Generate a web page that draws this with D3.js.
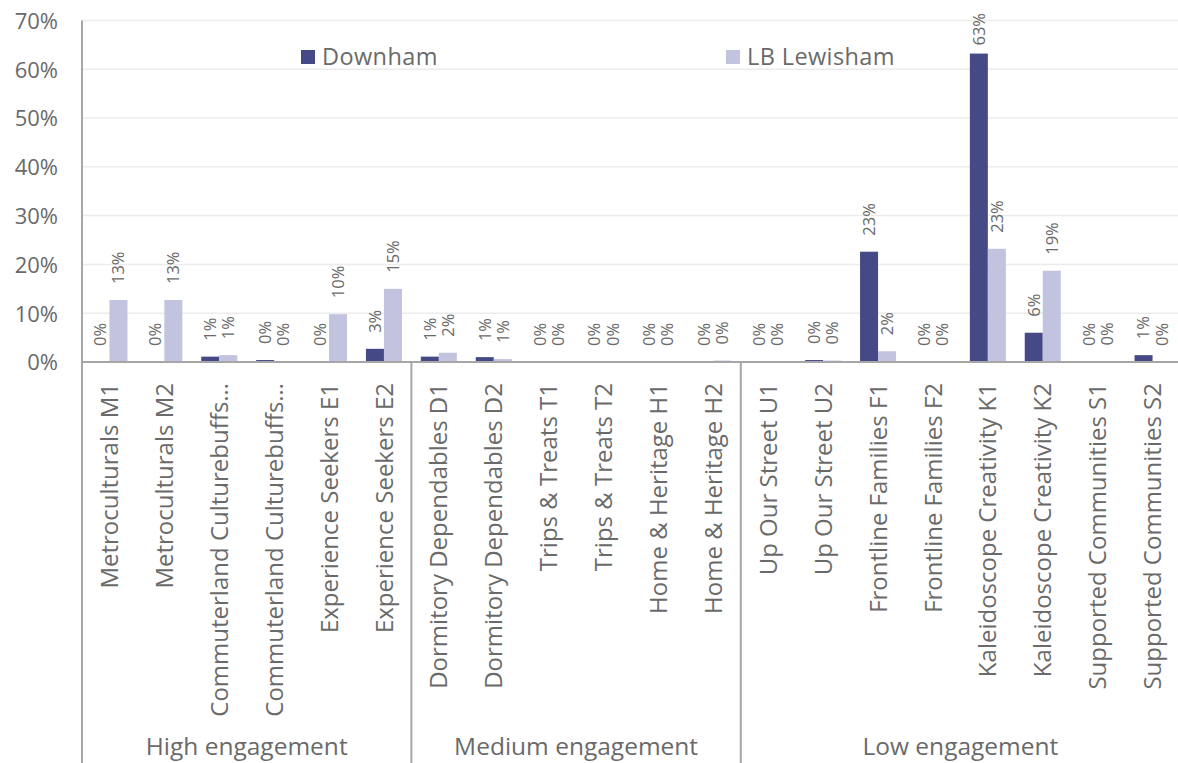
<!DOCTYPE html>
<html>
<head>
<meta charset="utf-8">
<script src="https://cdn.jsdelivr.net/npm/d3@7"></script>
<style>
  html, body { margin: 0; padding: 0; background: #ffffff; }
  svg { display: block; font-family: "Open Sans", "Noto Sans", sans-serif; }
</style>
</head>
<body>
<svg id="chart" width="1178" height="763"></svg>
<script>
// Audience Spectrum segments, grouped by engagement level
const categoryLabels = [
  "Metroculturals M1", "Metroculturals M2",
  "Commuterland Culturebuffs…", "Commuterland Culturebuffs…",
  "Experience Seekers E1", "Experience Seekers E2",
  "Dormitory Dependables D1", "Dormitory Dependables D2",
  "Trips & Treats T1", "Trips & Treats T2",
  "Home & Heritage H1", "Home & Heritage H2",
  "Up Our Street U1", "Up Our Street U2",
  "Frontline Families F1", "Frontline Families F2",
  "Kaleidoscope Creativity K1", "Kaleidoscope Creativity K2",
  "Supported Communities S1", "Supported Communities S2"
];
const groupNames = ["High engagement", "Medium engagement", "Low engagement"];
const groupSizes = [6, 6, 8];

const seriesNames = ["Downham", "LB Lewisham"];
// share of households, %
const downham  = [0, 0, 1.1, 0.4, 0, 2.7, 1.1, 1.0, 0, 0, 0, 0, 0, 0.4, 22.6, 0, 63.2, 6.0, 0, 1.4];
const lewisham = [12.7, 12.7, 1.4, 0, 9.8, 15.0, 1.9, 0.6, 0, 0, 0, 0.3, 0, 0.3, 2.2, 0, 23.2, 18.7, 0.1, 0];
const yTicks = [0, 10, 20, 30, 40, 50, 60, 70];

const colors = ["#454a86", "#c1c3df"];
const textColor = "#6a6a6a";
const axisColor = "#a6a6a6";
const gridColor = "#ececec";

const svg = d3.select("#chart");
const plot = { left: 82, right: 1180, top: 20.4, bottom: 362 };
const chartBottom = 763;

const idx = d3.range(categoryLabels.length);
const x = d3.scaleBand()
  .domain(idx)
  .range([plot.left, plot.right])
  .paddingInner(0.344)
  .paddingOuter(0.172);
const xs = d3.scaleBand().domain([0, 1]).range([0, x.bandwidth()]);
const y = d3.scaleLinear().domain([0, 70]).range([plot.bottom, plot.top]);

// gridlines
svg.append("g")
  .selectAll("line")
  .data(yTicks.filter(t => t > 0))
  .join("line")
  .attr("x1", plot.left).attr("x2", plot.right)
  .attr("y1", d => y(d)).attr("y2", d => y(d))
  .attr("stroke", gridColor).attr("stroke-width", 1.5);

// y axis labels
const yAxis = svg.append("g")
  .attr("transform", `translate(${plot.left},0)`)
  .call(d3.axisLeft(y).tickValues(yTicks).tickFormat(d => d + "%").tickSize(0).tickPadding(24));
yAxis.select(".domain").remove();
yAxis.selectAll("text")
  .attr("fill", textColor)
  .attr("font-size", 22)
  .attr("font-family", "Open Sans, sans-serif")
  .attr("dy", "0.36em");

// bars
const series = [downham, lewisham];
const barG = svg.append("g");
series.forEach((vals, s) => {
  barG.append("g")
    .selectAll("rect")
    .data(vals)
    .join("rect")
    .attr("x", (d, i) => x(i) + xs(s))
    .attr("width", xs.bandwidth())
    .attr("y", d => y(d))
    .attr("height", d => y(0) - y(d))
    .attr("fill", colors[s]);
});

// value labels, rotated, kept inside the plot area
const labelG = svg.append("g");
series.forEach((vals, s) => {
  labelG.append("g")
    .selectAll("text")
    .data(vals)
    .join("text")
    .text(d => Math.round(d) + "%")
    .attr("font-size", 16.5)
    .attr("fill", textColor)
    .attr("text-anchor", "start")
    .attr("dy", "0.36em")
    .each(function (d, i) {
      const len = this.getComputedTextLength();
      const cx = x(i) + xs(s) + xs.bandwidth() / 2;
      let base = y(d) - 16;
      const minTop = 13;
      if (base - len < minTop) base = minTop + len;
      d3.select(this).attr("transform", `translate(${cx},${base}) rotate(-90)`);
    });
});

// axis lines
const lines = svg.append("g").attr("stroke", axisColor).attr("stroke-width", 2);
lines.append("line")
  .attr("x1", plot.left).attr("x2", plot.right)
  .attr("y1", y(0)).attr("y2", y(0));
lines.append("line")
  .attr("x1", plot.left).attr("x2", plot.left)
  .attr("y1", plot.top).attr("y2", chartBottom);

// category labels
svg.append("g")
  .selectAll("text")
  .data(categoryLabels)
  .join("text")
  .text(d => d)
  .attr("font-size", 24)
  .attr("fill", textColor)
  .attr("text-anchor", "end")
  .attr("dy", "0.36em")
  .attr("transform", (d, i) => `translate(${x(i) + x.bandwidth() / 2},383) rotate(-90)`);

// engagement groups: separators and names
let start = 0;
const groups = groupNames.map((name, g) => {
  const first = start, last = start + groupSizes[g] - 1;
  start += groupSizes[g];
  return {
    name,
    x0: x(first) - x.step() * x.paddingInner() / 2,
    x1: x(last) + x.bandwidth() + x.step() * x.paddingInner() / 2
  };
});
groups[0].x0 = plot.left;
groups[groups.length - 1].x1 = plot.right;

svg.append("g")
  .selectAll("line")
  .data(groups.slice(1))
  .join("line")
  .attr("x1", d => d.x0).attr("x2", d => d.x0)
  .attr("y1", y(0)).attr("y2", chartBottom)
  .attr("stroke", axisColor).attr("stroke-width", 2);

svg.append("g")
  .selectAll("text")
  .data(groups)
  .join("text")
  .text(d => d.name)
  .attr("x", d => (d.x0 + d.x1) / 2)
  .attr("y", 755)
  .attr("text-anchor", "middle")
  .attr("font-size", 24.5)
  .attr("fill", textColor);

// legend
const legendItems = [
  { name: seriesNames[0], color: colors[0], x: 301 },
  { name: seriesNames[1], color: colors[1], x: 726 }
];
const legend = svg.append("g")
  .selectAll("g")
  .data(legendItems)
  .join("g")
  .attr("transform", d => `translate(${d.x},50)`);
legend.append("rect")
  .attr("width", 14).attr("height", 14)
  .attr("fill", d => d.color);
legend.append("text")
  .text(d => d.name)
  .attr("x", 21)
  .attr("y", 15)
  .attr("font-size", 23.5)
  .attr("letter-spacing", 0.4)
  .attr("fill", textColor);
</script>
</body>
</html>
